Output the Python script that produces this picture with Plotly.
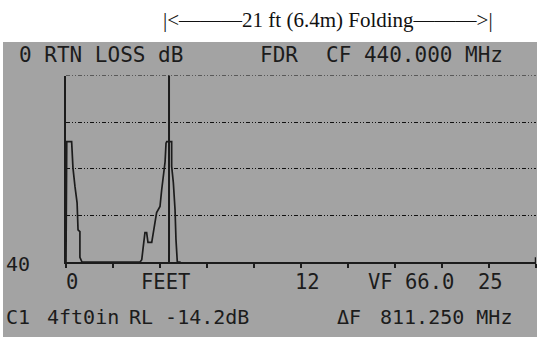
import plotly.graph_objects as go

W, H = 537, 337

# ---- data (feet vs return loss dB) ----
trace_ft = [0.0, 0.04, 0.3, 0.37, 0.48, 0.59, 0.64, 0.74, 0.74, 0.85,
            3.94, 4.03, 4.11, 4.20, 4.29, 4.36, 4.56, 4.63, 4.73, 4.82, 5.0, 5.09,
            5.18, 5.27, 5.32, 5.36, 5.62, 5.62, 5.71, 5.80, 5.85, 5.89, 5.92, 6.1]
trace_db = [40, 14.2, 14.2, 19.8, 23.9, 27.3, 33.1, 33.5, 39.0, 40,
            40, 39.5, 36.7, 33.7, 33.7, 35.8, 35.8, 33.7, 31.6, 29.4, 28.1, 24.5,
            21.7, 18.5, 14.5, 14.2, 14.2, 19.5, 23.0, 28.8, 35.2, 39.5, 40, 40]
cursor_ft = 5.48
c1_mark_ft = 4.15
x_ticks = [0, 2.5, 5, 7.5, 10, 12.5, 15, 17.5, 20, 22.5, 25]
y_grid = [0, 10, 20, 30]

header_left = "0 RTN LOSS dB"
header_mid = "FDR"
header_right = "CF 440.000 MHz"
y_bottom_label = "40"
x_labels = ["0", "FEET", "12", "VF 66.0", "25"]
status_items = ["C1", "4ft0in", "RL -14.2dB", "ΔF", "811.250 MHz"]
title_text = "|<———21 ft (6.4m) Folding———>|"

# ---- helpers ----
def px(x):
    return x / W

def py(y):
    return 1 - y / H

INK = "#1c1c1c"
GRAY = "#a3a3a3"
LCD = "DejaVu Sans Mono"
GRID_DASH = "4px,2px,1px,2px,1px,2px"

fig = go.Figure()
fig.add_trace(go.Scatter(x=trace_ft, y=trace_db, mode="lines",
                         line=dict(color=INK, width=1.7), hoverinfo="skip",
                         showlegend=False))

shapes = [
    dict(type="rect", xref="paper", yref="paper", x0=px(3), x1=1, y0=0, y1=py(42),
         fillcolor=GRAY, line=dict(width=0), layer="below"),
    dict(type="line", xref="x", yref="y", x0=x_ticks[0], x1=x_ticks[-1],
         y0=y_grid[0], y1=y_grid[0],
         line=dict(color="#111111", width=1, dash=GRID_DASH)),
    dict(type="line", xref="x", yref="y", x0=cursor_ft, x1=cursor_ft, y0=-0.6, y1=40,
         line=dict(color=INK, width=2)),
    dict(type="line", xref="x", yref="y", x0=c1_mark_ft, x1=c1_mark_ft, y0=-1.2, y1=0,
         line=dict(color=INK, width=1.5)),
    dict(type="line", xref="x", yref="y", x0=25, x1=25, y0=39.0, y1=41.0,
         line=dict(color=INK, width=2.5)),
]

ann = []
def txt(s, x, y, size=20, font=LCD, anchor="left", color=INK):
    ann.append(dict(text=s, x=px(x), y=py(y), xref="paper", yref="paper",
                    xanchor=anchor, yanchor="middle", showarrow=False,
                    font=dict(family=font, size=size, color=color)))

txt(title_text, 328, 20, size=21, font="Liberation Serif", anchor="center", color="#111")
txt(header_left, 17, 55, size=21)
txt(header_mid, 258, 55, size=21)
txt(header_right, 324, 55, size=21)
txt(y_bottom_label, 4, 264)
for s, x in zip(x_labels, [64, 139, 293, 366, 476]):
    txt(s, x, 282, size=20.5)
for s, x in zip(status_items, [4, 45, 127, 335, 378]):
    txt(s, x, 317)

fig.update_layout(
    width=W, height=H,
    margin=dict(l=0, r=0, t=0, b=0),
    paper_bgcolor="white",
    plot_bgcolor="rgba(0,0,0,0)",
    shapes=shapes, annotations=ann,
    xaxis=dict(domain=[px(66), px(536)], range=[0, 25], tickvals=x_ticks,
               showticklabels=False, ticks="outside", ticklen=4, tickcolor=INK,
               tickwidth=1.5, showline=True, linecolor=INK, linewidth=1.5,
               showgrid=False, zeroline=False, fixedrange=True),
    yaxis=dict(domain=[py(262), py(75.5)], range=[40, 0], tickvals=y_grid,
               showticklabels=False, ticks="", showline=True, linecolor=INK,
               linewidth=1.5, showgrid=True, gridcolor="#111111",
               griddash=GRID_DASH, gridwidth=1,
               zeroline=False, fixedrange=True),
)

fig.write_html("out.html", config={"displayModeBar": False},
               post_script="document.body.style.margin='0';document.body.style.overflow='hidden';")
